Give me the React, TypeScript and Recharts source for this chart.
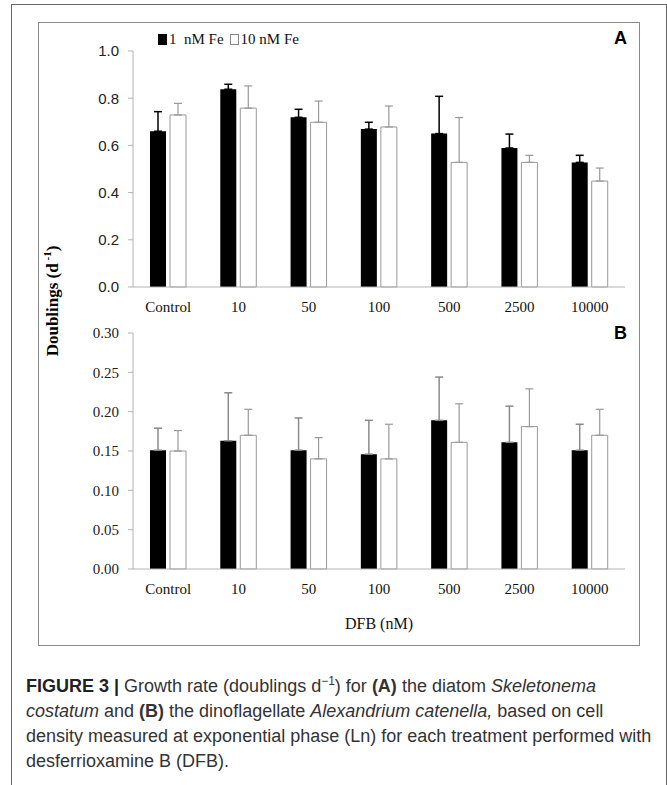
import { BarChart, Bar, XAxis, YAxis, ErrorBar, Legend } from 'recharts';

const categories = ['Control', '10', '50', '100', '500', '2500', '10000'];

// panel A - Skeletonema costatum
const diatomLowFe = [0.66, 0.838, 0.719, 0.669, 0.65, 0.589, 0.528];
const diatomLowFeErr = [0.083, 0.021, 0.034, 0.029, 0.158, 0.059, 0.03];
const diatomHighFe = [0.729, 0.758, 0.698, 0.678, 0.528, 0.528, 0.449];
const diatomHighFeErr = [0.049, 0.094, 0.09, 0.089, 0.19, 0.03, 0.055];

// panel B - Alexandrium catenella
const dinoLowFe = [0.151, 0.163, 0.151, 0.146, 0.189, 0.161, 0.151];
const dinoLowFeErr = [0.028, 0.061, 0.041, 0.043, 0.055, 0.046, 0.033];
const dinoHighFe = [0.15, 0.17, 0.14, 0.14, 0.161, 0.181, 0.17];
const dinoHighFeErr = [0.026, 0.033, 0.027, 0.044, 0.049, 0.048, 0.033];

const ticksA = [0, 0.2, 0.4, 0.6, 0.8, 1.0];
const ticksB = [0, 0.05, 0.1, 0.15, 0.2, 0.25, 0.3];

const seriesNames = ['1  nM Fe', '10 nM Fe'];

const serif = '"Liberation Serif", "Times New Roman", serif';
const sans = '"Liberation Sans", Arial, sans-serif';

const buildRows = (low: number[], lowErr: number[], high: number[], highErr: number[]) =>
  categories.map((name, i) => ({
    name,
    low: low[i],
    lowErr: [0, lowErr[i]],
    high: high[i],
    highErr: [0, highErr[i]],
  }));

const rowsA = buildRows(diatomLowFe, diatomLowFeErr, diatomHighFe, diatomHighFeErr);
const rowsB = buildRows(dinoLowFe, dinoLowFeErr, dinoHighFe, dinoHighFeErr);

const renderLegend = (props: any) => (
  <div style={{ display: 'flex', alignItems: 'center', fontFamily: serif, fontSize: 15, color: '#111' }}>
    {(props.payload || []).map((p: any, i: number) => (
      <span key={i} style={{ display: 'flex', alignItems: 'center', marginRight: 6 }}>
        <span
          style={{
            display: 'inline-block',
            width: 7,
            height: 9,
            marginRight: 2,
            background: i === 0 ? '#000' : '#fff',
            border: i === 0 ? '1px solid #000' : '1px solid #888',
          }}
        />
        <span style={{ whiteSpace: 'pre' }}>{p.value}</span>
      </span>
    ))}
  </div>
);

interface PanelProps {
  rows: any[];
  ticks: number[];
  digits: number;
  tickFont: string;
  top: number;
  marginTop: number;
  marginBottom: number;
  lowErrColor: string;
  showLegend?: boolean;
}

function Panel({ rows, ticks, digits, tickFont, top, marginTop, marginBottom, lowErrColor, showLegend }: PanelProps) {
  return (
    <div style={{ position: 'absolute', left: 0, top }}>
      <BarChart
        width={667}
        height={320}
        data={rows}
        margin={{ top: marginTop, right: 42, bottom: marginBottom, left: 93 }}
        barSize={16}
        barGap={4}
      >
        <XAxis
          dataKey="name"
          stroke="#b3b3b3"
          tickLine={false}
          tickSize={6}
          tickMargin={8}
          height={30}
          tick={{ fill: '#111', fontSize: 15, fontFamily: serif }}
        />
        <YAxis
          width={40}
          domain={[0, ticks[ticks.length - 1]]}
          ticks={ticks}
          stroke="#b3b3b3"
          tickSize={5}
          tickMargin={9}
          tick={{ fill: '#222', fontSize: 15, fontFamily: tickFont }}
          tickFormatter={(v) => Number(v).toFixed(digits)}
        />
        {showLegend && (
          <Legend
            layout="horizontal"
            verticalAlign="middle"
            align="center"
            content={renderLegend}
            wrapperStyle={{ position: 'absolute', top: 31, left: 158, width: 220, height: 18 }}
          />
        )}
        <Bar dataKey="low" name={seriesNames[0]} fill="#000" isAnimationActive={false}>
          <ErrorBar dataKey="lowErr" width={4} stroke={lowErrColor} strokeWidth={1.5} direction="y" />
        </Bar>
        <Bar dataKey="high" name={seriesNames[1]} fill="#fff" stroke="#999" strokeWidth={1} isAnimationActive={false}>
          <ErrorBar dataKey="highErr" width={4} stroke="#999" strokeWidth={1.2} direction="y" />
        </Bar>
      </BarChart>
    </div>
  );
}

export default function App() {
  return (
    <div style={{ position: 'absolute', left: 0, top: 0, width: 667, height: 785, background: '#fff', overflow: 'hidden' }}>
      {/* outer figure frame */}
      <div style={{ position: 'absolute', left: 11, top: 4, width: 654, height: 800, border: '1px solid #666' }} />
      {/* inner chart frame */}
      <div style={{ position: 'absolute', left: 38, top: 22, width: 600, height: 622, border: '1px solid #8a8a8a' }} />

      <Panel rows={rowsA} ticks={ticksA} digits={1} tickFont={sans} top={0} marginTop={51} marginBottom={3}
        lowErrColor="#000" showLegend />
      <Panel rows={rowsB} ticks={ticksB} digits={2} tickFont={serif} top={300} marginTop={33} marginBottom={21}
        lowErrColor="#8a8a8a" />

      <div style={{ position: 'absolute', left: 614, top: 28, fontFamily: sans, fontWeight: 700, fontSize: 18 }}>A</div>
      <div style={{ position: 'absolute', left: 614, top: 323, fontFamily: sans, fontWeight: 700, fontSize: 18 }}>B</div>

      <svg style={{ position: 'absolute', left: 0, top: 0 }} width={100} height={400}>
        <text x={58} y={301} transform="rotate(-90 58 301)" textAnchor="middle" fontFamily={serif} fontWeight={700} fontSize={17}>
          Doublings (d
          <tspan fontSize={11} dy={-7}> -1</tspan>
          <tspan dy={7}>)</tspan>
        </text>
      </svg>

      <div style={{ position: 'absolute', left: 0, width: 758, top: 615, textAlign: 'center', fontFamily: serif, fontSize: 16, color: '#111' }}>
        DFB (nM)
      </div>

      <div style={{ position: 'absolute', left: 26, top: 674, fontFamily: sans, fontSize: 18, lineHeight: '25px', color: '#333', whiteSpace: 'nowrap' }}>
        <div>
          <b style={{ color: '#222' }}>FIGURE 3 |</b> Growth rate (doublings d<sup style={{ fontSize: 12, lineHeight: 0 }}>−1</sup>) for <b>(A)</b> the diatom <i>Skeletonema</i>
        </div>
        <div>
          <i>costatum</i> and <b>(B)</b> the dinoflagellate <i>Alexandrium catenella,</i> based on cell
        </div>
        <div>density measured at exponential phase (Ln) for each treatment performed with</div>
        <div>desferrioxamine B (DFB).</div>
      </div>
    </div>
  );
}
